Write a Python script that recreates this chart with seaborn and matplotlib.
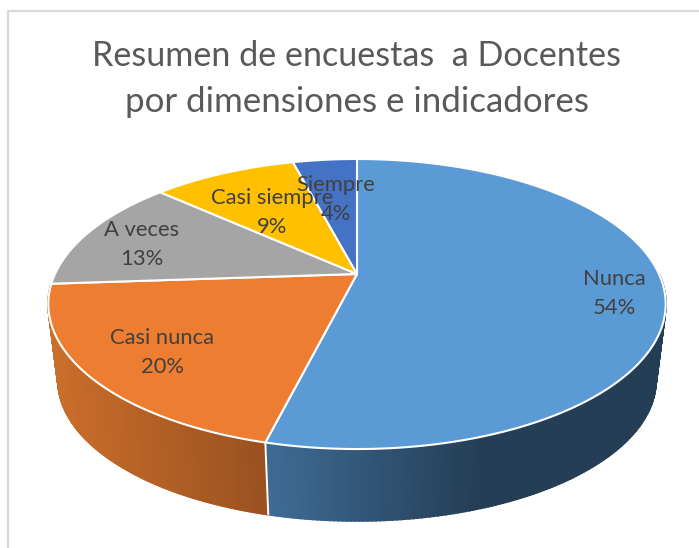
import numpy as np
import matplotlib
matplotlib.use('Agg')
import matplotlib.pyplot as plt
import seaborn as sns

labels = ['Nunca', 'Casi nunca', 'A veces', 'Casi siempre', 'Siempre']
values = [53.9, 20.0, 12.8, 9.2, 4.1]
title_lines = ['Resumen de encuestas  a Docentes', 'por dimensiones e indicadores']

colors = sns.color_palette(['#5B9BD5', '#ED7D31', '#A5A5A5', '#FFC000', '#4472C4'])
# posicion del texto de cada etiqueta en pixeles
label_pos = [(614, 279), (162, 338), (142, 230), (272, 198), (336, 185)]

sns.set_theme(style='white')
plt.rcParams['font.family'] = ['Lato', 'DejaVu Sans']

# perspectiva del disco
cx, cy = 357, 274
a, b, k = 302, 138.8, 0.207
s, y0 = 0.968, 2690


def top_rim(theta):
    u, v = np.sin(theta), np.cos(theta)
    d = 1 + k * v
    return cx + a * u / d, cy - b * v / d


def bottom_rim(theta):
    x, y = top_rim(theta)
    return cx + s * (x - cx), y0 - s * (y0 - y)


def mix(c1, c2, t):
    return tuple(np.array(matplotlib.colors.to_rgb(c1)) * (1 - t) + np.array(matplotlib.colors.to_rgb(c2)) * t)


def draw_wall(ax, t1, t2, c1, c2, x1, x2):
    th = np.linspace(t1, t2, 160)
    for i in range(len(th) - 1):
        xa, ya = top_rim(th[i])
        xb, yb = top_rim(th[i + 1])
        xc, yc = bottom_rim(th[i + 1])
        xd, yd = bottom_rim(th[i])
        t = np.clip(((xa + xb) / 2 - x1) / (x2 - x1), 0, 1)
        col = mix(c1, c2, t)
        ax.fill([xa, xb, xc, xd], [ya, yb, yc, yd], color=col, lw=1.5, zorder=2)


fig = plt.figure(figsize=(6.99, 5.48), dpi=100)
ax = fig.add_axes([0, 0, 1, 1])
ax.set_xlim(0, 699)
ax.set_ylim(548, 0)
ax.axis('off')

# marco del grafico
ax.plot([8, 8, 699], [548, 11, 11], color='#D9D9D9', lw=1.6, zorder=1)

ends = np.cumsum(values) / np.sum(values) * 2 * np.pi
starts = np.concatenate([[0], ends[:-1]])

# paredes laterales
draw_wall(ax, np.pi / 2, ends[0], '#243E55', '#3E6B95', 480, 267)
draw_wall(ax, starts[1], ends[1], '#CA6E2B', '#9A5120', 50, 265)

# separacion entre las dos paredes
x1, y1 = top_rim(ends[0])
x2, y2 = bottom_rim(ends[0])
ax.plot([x1, x2], [y1, y2], color='white', lw=1.4, zorder=3)

# cara superior
for t1, t2, col in zip(starts, ends, colors):
    th = np.linspace(t1, t2, 200)
    xs, ys = top_rim(th)
    ax.fill(np.r_[cx, xs], np.r_[cy, ys], facecolor=col, edgecolor='white', lw=1.5, zorder=4, joinstyle='round')

# etiquetas
for lab, val, (x, y) in zip(labels, values, label_pos):
    ax.text(x, y, lab, ha='center', va='center', fontsize=15.8, color='#404040', zorder=5)
    ax.text(x, y + 29, f'{val:.0f}%', ha='center', va='center', fontsize=15.8, color='#404040', zorder=5)

ax.text(357, 56, title_lines[0], ha='center', va='center', fontsize=24.6, color='#595959')
ax.text(357, 102, title_lines[1], ha='center', va='center', fontsize=25.1, color='#595959')

fig.savefig('out.png', dpi=100)
